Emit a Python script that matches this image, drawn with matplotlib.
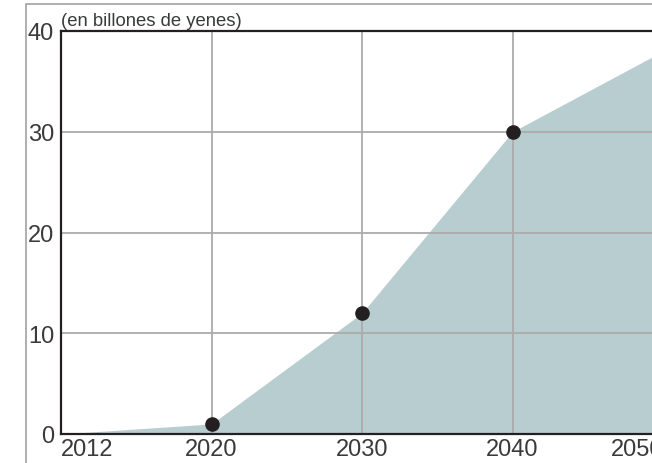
import matplotlib.pyplot as plt
from matplotlib.patches import Rectangle

years = ['2012', '2020', '2030', '2040', '2050']
values = [0, 1, 12, 30, 38]
marked_years = ['2020', '2030', '2040']
marked_values = [1, 12, 30]
y_ticks = [0, 10, 20, 30, 40]

W, H = 652, 464
FILL = '#b8cdd0'
DARK = '#231f20'
GRID = '#ababab'
TEXT = '#3a3a3a'

plt.rcParams['font.family'] = ['Liberation Sans', 'DejaVu Sans']

fig = plt.figure(figsize=(W / 100, H / 100), dpi=100)

# outer frame, cut off on the right and at the bottom
fig.patches.append(Rectangle((26 / W, -0.1), 1.2, (H - 5) / H + 0.1,
                             transform=fig.transFigure, fill=False,
                             edgecolor='#9a9a9a', linewidth=1.1))

# axes extend past the right edge so 2050 is cut like in the original
left, right = 61 / W, 663 / W
bottom, top = (H - 435) / H, (H - 32) / H
ax = fig.add_axes([left, bottom, right - left, top - bottom])

pos = list(range(len(years)))
ax.fill_between(pos, values, 0, color=FILL, linewidth=0, zorder=1)
ax.plot([years.index(y) for y in marked_years], marked_values, 'o',
        color=DARK, markersize=9.5, zorder=4, clip_on=False)

ax.set_xlim(0, len(years) - 1)
ax.set_ylim(0, 40)
ax.set_xticks(pos)
ax.set_xticklabels(years)
ax.set_yticks(y_ticks)
ax.tick_params(length=0, labelsize=17, labelcolor=TEXT)
ax.tick_params(axis='x', pad=3)
ax.tick_params(axis='y', pad=5)
ax.get_xticklabels()[0].set_horizontalalignment('left')
ax.get_xticklabels()[-1].set_horizontalalignment('right')

for p in pos[1:-1]:
    ax.axvline(p, color=GRID, linewidth=1.3, zorder=2)
for t in y_ticks[1:-1]:
    ax.axhline(t, color=GRID, linewidth=1.3, zorder=2)

for side in ['left', 'bottom', 'top']:
    ax.spines[side].set_color(DARK)
    ax.spines[side].set_linewidth(1.6)
    ax.spines[side].set_zorder(5)
ax.spines['right'].set_visible(False)

ax.text(0.0, 40.2, '(en billones de yenes)', fontsize=13.3, color=TEXT,
        ha='left', va='bottom')

fig.savefig('out.png', dpi=100)
